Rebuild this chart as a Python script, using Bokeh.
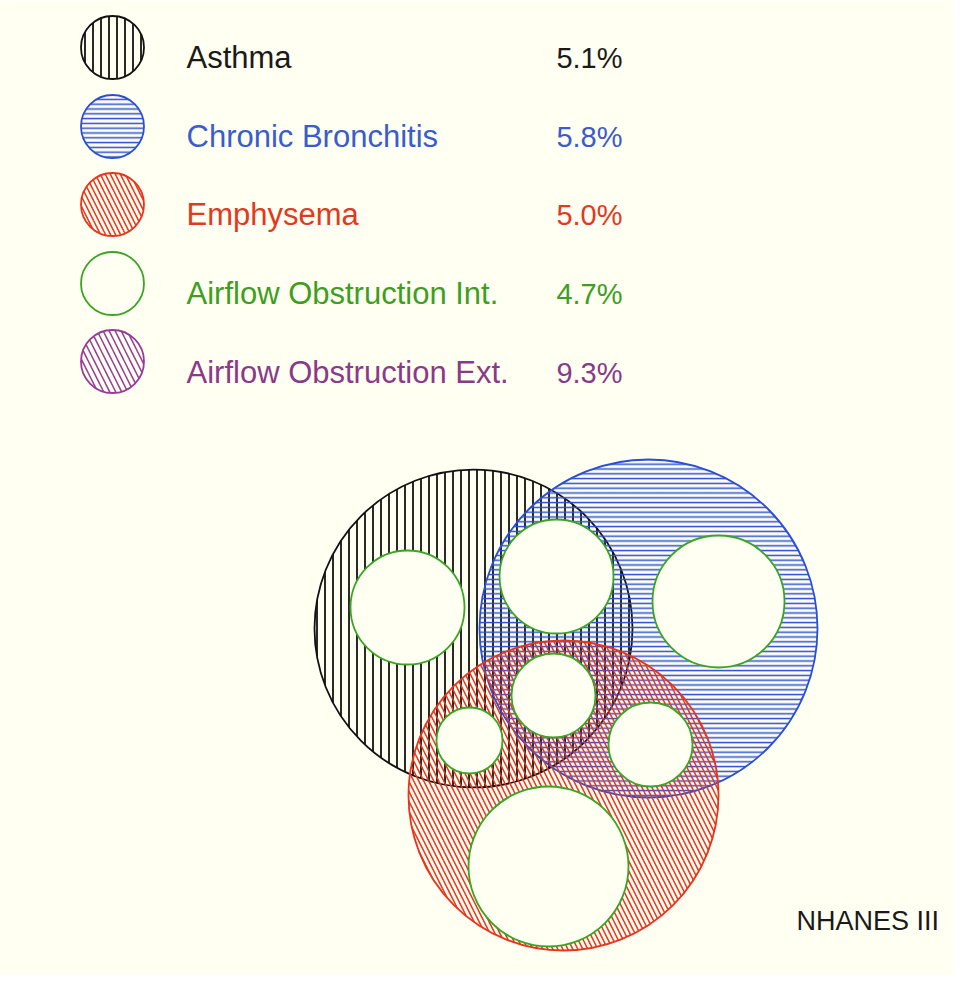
from bokeh.plotting import figure
from bokeh.models import Range1d
from bokeh.core.properties import value
from bokeh.embed import file_html
from bokeh.resources import INLINE

# ---- data ----
conditions = ["Asthma", "Chronic Bronchitis", "Emphysema",
              "Airflow Obstruction Int.", "Airflow Obstruction Ext."]
prevalence = ["5.1%", "5.8%", "5.0%", "4.7%", "9.3%"]

# Venn layout (reference pixel coordinates)
big_x = [473, 648, 563]
big_y = [628, 628, 795]
big_r = [159, 169, 155]

ao_x = [407, 556, 718, 553, 469, 650, 548]
ao_y = [607, 576, 601, 695, 740, 744, 866]
ao_r = [57, 57, 66, 42, 33, 42, 80]

source_label = "NHANES III"

# ---- styles ----
BG = "#fffff2"
line_cols = ["#111111", "#2a4fd6", "#e8341c", "#3aa524", "#9a3a9a"]
text_cols = ["#1a1a1a", "#3a5ccc", "#e03a22", "#3e9e22", "#8a3a8a"]
hatches = ["vertical_line", "horizontal_line", "left_diagonal_line", None, "left_diagonal_line"]
hscale = [8, 4.8, 10, 12, 12]
hweight = [1.8, 1.5, 1.5, 1, 1.5]
FONT = value("Liberation Sans")

W, H = 953, 975
p = figure(width=W, height=H, output_backend="svg", toolbar_location=None,
           x_range=Range1d(0, W), y_range=Range1d(H, 0),
           min_border=0, background_fill_color=BG, border_fill_color=BG,
           outline_line_color=None)
p.axis.visible = False
p.grid.visible = False

# ---- legend ----
leg_y = [47, 126, 204, 283, 361]
txt_y = [57, 136, 214, 293, 372]
for i, name in enumerate(conditions):
    kw = dict(x=[112], y=[leg_y[i]], radius=31.5, line_color=line_cols[i],
              line_width=1.8, fill_alpha=0)
    if hatches[i]:
        kw.update(hatch_pattern=hatches[i], hatch_color=line_cols[i],
                  hatch_scale=hscale[i], hatch_weight=hweight[i])
    else:
        kw.update(fill_color=BG, fill_alpha=1)
    p.circle(**kw)
    p.text(x=[186], y=[txt_y[i]], text=[name], text_font=FONT,
           text_font_size="31px", text_color=text_cols[i],
           text_baseline="middle", text_align="left")
    p.text(x=[622], y=[txt_y[i]], text=[prevalence[i]], text_font=FONT,
           text_font_size="29px", text_color=text_cols[i],
           text_baseline="middle", text_align="right")

# ---- Venn circles ----
for i in range(3):
    p.circle(x=[big_x[i]], y=[big_y[i]], radius=big_r[i],
             line_color=line_cols[i], line_width=1.8, fill_alpha=0,
             hatch_pattern=hatches[i], hatch_color=line_cols[i],
             hatch_scale=hscale[i], hatch_weight=hweight[i])

p.circle(x=ao_x, y=ao_y, radius=ao_r, fill_color=BG, fill_alpha=1,
         line_color=line_cols[3], line_width=1.8)

p.text(x=[796], y=[920], text=[source_label], text_font=FONT,
       text_font_size="27px", text_color="#1a1a1a",
       text_baseline="middle", text_align="left")

open("out.html", "w").write(file_html(p, INLINE))
